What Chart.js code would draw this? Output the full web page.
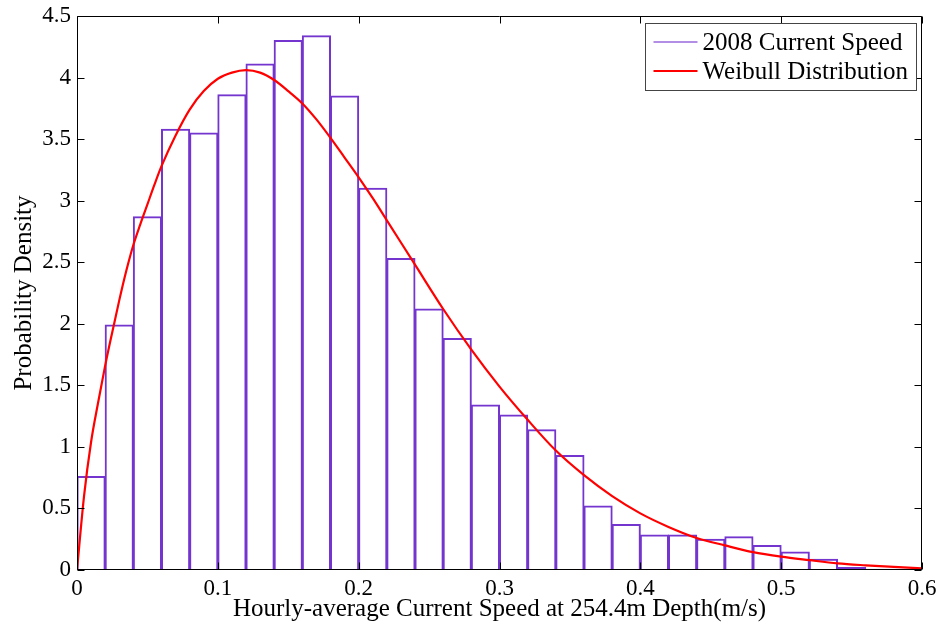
<!DOCTYPE html>
<html><head><meta charset="utf-8">
<script src="https://cdn.jsdelivr.net/npm/chart.js@4/dist/chart.umd.min.js"></script>
<style>html,body{margin:0;padding:0;background:#fff;} #wrap{width:941px;height:633px;}</style>
</head><body><div id="wrap"><canvas id="c" width="941" height="633"></canvas></div>
<script>
// ---- data ----
const binCenters = [0.01,0.03,0.05,0.07,0.09,0.11,0.13,0.15,0.17,0.19,0.21,0.23,0.25,0.27,0.29,0.31,0.33,0.35,0.37,0.39,0.41,0.43,0.45,0.47,0.49,0.51,0.53,0.55,0.57,0.59];
const densities  = [0.76,1.99,2.87,3.58,3.55,3.86,4.11,4.30,4.34,3.85,3.10,2.53,2.12,1.88,1.34,1.26,1.14,0.93,0.52,0.37,0.285,0.285,0.25,0.27,0.20,0.146,0.087,0.02,0.006,0.006];
const curveX = [0,0.005,0.01,0.015,0.02,0.025,0.03,0.035,0.04,0.045,0.05,0.055,0.06,0.07,0.08,0.09,0.10,0.11,0.12,0.13,0.14,0.15,0.16,0.17,0.18,0.19,0.20,0.21,0.22,0.24,0.26,0.28,0.30,0.32,0.34,0.36,0.38,0.40,0.42,0.44,0.46,0.48,0.50,0.52,0.54,0.56,0.58,0.60];
const curveY = [0,0.60,1.04,1.36,1.66,1.93,2.19,2.43,2.64,2.81,2.97,3.13,3.28,3.53,3.74,3.89,3.99,4.04,4.06,4.04,3.98,3.89,3.79,3.66,3.51,3.35,3.19,3.02,2.84,2.48,2.12,1.79,1.49,1.22,0.97,0.77,0.60,0.46,0.35,0.26,0.20,0.145,0.108,0.08,0.054,0.038,0.025,0.014];
const xTickValues = [0,0.1,0.2,0.3,0.4,0.5,0.6];
const xTickLabels = ['0','0.1','0.2','0.3','0.4','0.5','0.6'];
const yTickValues = [0,0.5,1,1.5,2,2.5,3,3.5,4,4.5];
const yTickLabels = ['0','0.5','1','1.5','2','2.5','3','3.5','4','4.5'];
const seriesLabels = ['2008 Current Speed','Weibull Distribution'];
const xTitle = 'Hourly-average Current Speed at 254.4m Depth(m/s)';
const yTitle = 'Probability Density';

const SERIF = '"Liberation Serif", "Times New Roman", serif';
const barColor = '#7435cf';
const legendBarColor = '#9a68dc';
const curveColor = '#ff0000';
Chart.defaults.font.family = SERIF;
Chart.defaults.color = '#000';

const framePlugin = {
  id: 'frame',
  afterDatasetsDraw(chart) {
    const {ctx, chartArea: a, scales: {x, y}} = chart;
    ctx.save();
    ctx.strokeStyle = '#000';
    ctx.lineWidth = 1;
    const L = Math.round(a.left) + 0.5, R = Math.round(a.right) - 0.5;
    const T = Math.round(a.top) + 0.5, B = Math.round(a.bottom) - 0.5;
    ctx.beginPath();
    ctx.rect(L, T, R - L, B - T);
    const tl = 7;
    x.ticks.forEach(t => {
      const px = Math.round(x.getPixelForValue(t.value)) + 0.5;
      ctx.moveTo(px, B); ctx.lineTo(px, B - tl);
      ctx.moveTo(px, T); ctx.lineTo(px, T + tl);
    });
    y.ticks.forEach(t => {
      const py = Math.round(y.getPixelForValue(t.value)) + 0.5;
      ctx.moveTo(L, py); ctx.lineTo(L + tl, py);
      ctx.moveTo(R, py); ctx.lineTo(R - tl, py);
    });
    ctx.stroke();

    // legend
    const fs = 25;
    ctx.font = fs + 'px ' + SERIF;
    const colors = [legendBarColor, curveColor];
    const widths = [1.5, 2];
    const textW = Math.max(...seriesLabels.map(s => ctx.measureText(s).width));
    const padL = 8, lineLen = 44, gap = 5, padR = 8, rowH = 29;
    const boxW = Math.round(padL + lineLen + gap + textW + padR);
    const boxH = 67;
    const bx = Math.round(a.right - 6 - boxW) + 0.5;
    const by = Math.round(a.top + 7) + 0.5;
    ctx.fillStyle = '#fff';
    ctx.fillRect(bx, by, boxW, boxH);
    ctx.strokeStyle = '#444';
    ctx.lineWidth = 1;
    ctx.strokeRect(bx, by, boxW, boxH);
    ctx.textBaseline = 'middle';
    ctx.textAlign = 'left';
    seriesLabels.forEach((s, i) => {
      const cy = by + 18.5 + i * rowH;
      ctx.strokeStyle = colors[i];
      ctx.lineWidth = widths[i];
      ctx.beginPath();
      ctx.moveTo(bx + padL, cy); ctx.lineTo(bx + padL + lineLen, cy);
      ctx.stroke();
      ctx.fillStyle = '#000';
      ctx.fillText(s, bx + padL + lineLen + gap, cy + 1);
    });
    ctx.restore();
  }
};

new Chart(document.getElementById('c'), {
  type: 'bar',
  data: {
    datasets: [
      {
        type: 'line',
        label: seriesLabels[1],
        data: curveX.map((v, i) => ({x: v, y: curveY[i]})),
        borderColor: curveColor,
        borderWidth: 2.2,
        pointRadius: 0,
        fill: false,
        cubicInterpolationMode: 'monotone',
        order: 0
      },
      {
        type: 'bar',
        label: seriesLabels[0],
        data: binCenters.map((v, i) => ({x: v, y: densities[i]})),
        backgroundColor: 'rgba(255,255,255,0)',
        borderColor: barColor,
        borderWidth: 1,
        inflateAmount: 0.5,
        barPercentage: 1,
        categoryPercentage: 1,
        grouped: false,
        order: 1
      }
    ]
  },
  options: {
    responsive: false,
    animation: false,
    events: [],
    layout: {padding: {top: 16, right: 19, left: 0, bottom: 0}},
    plugins: {legend: {display: false}, tooltip: {enabled: false}},
    scales: {
      x: {
        type: 'linear', min: 0, max: 0.6, offset: false,
        grid: {display: false, drawTicks: false},
        border: {display: false},
        afterBuildTicks: s => { s.ticks = xTickValues.map(v => ({value: v})); },
        afterFit: s => { s.height = 63; s.paddingLeft = 0; s.paddingRight = 0; },
        ticks: {font: {size: 23}, color: '#000', padding: 5, maxRotation: 0, autoSkip: false,
                callback: (v, i) => xTickLabels[i]},
        title: {display: true, text: xTitle, font: {size: 25}, color: '#000', padding: {top: 0, bottom: 9}}
      },
      y: {
        type: 'linear', min: 0, max: 4.5,
        grid: {display: false, drawTicks: false},
        border: {display: false},
        afterBuildTicks: s => { s.ticks = yTickValues.map(v => ({value: v})); },
        afterFit: s => { s.width = 77; s.paddingTop = 0; s.paddingBottom = 0; },
        ticks: {font: {size: 23}, color: '#000', padding: 6, autoSkip: false,
                callback: (v, i) => yTickLabels[i]},
        title: {display: true, text: yTitle, font: {size: 25}, color: '#000', padding: {top: 9, bottom: 0}}
      }
    }
  },
  plugins: [framePlugin]
});
</script>
</body></html>
